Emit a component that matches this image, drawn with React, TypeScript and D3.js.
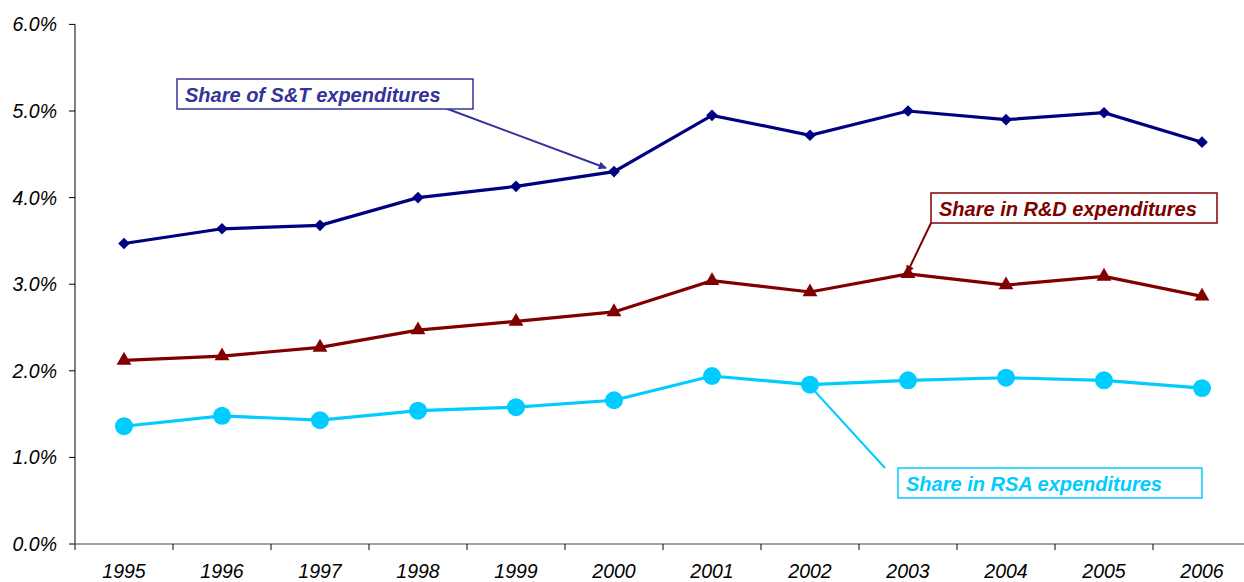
import React, { useEffect, useRef } from "react";
import * as d3 from "d3";

const years = ["1995", "1996", "1997", "1998", "1999", "2000", "2001", "2002", "2003", "2004", "2005", "2006"];
const stShare = [3.47, 3.64, 3.68, 4.0, 4.13, 4.3, 4.95, 4.72, 5.0, 4.9, 4.98, 4.64];
const rdShare = [2.12, 2.17, 2.27, 2.47, 2.57, 2.68, 3.04, 2.91, 3.12, 2.99, 3.09, 2.86];
const rsaShare = [1.36, 1.48, 1.43, 1.54, 1.58, 1.66, 1.94, 1.84, 1.89, 1.92, 1.89, 1.8];
const yTicks = [0, 1, 2, 3, 4, 5, 6];

export default function App() {
    const ref = useRef<SVGSVGElement>(null);

    useEffect(() => {
        const width = 1244;
        const height = 582;
        const svg = d3.select(ref.current);
        svg.selectAll("*").remove();

        const x = d3.scaleBand().domain(years).range([75, 1251]);
        const y = d3.scaleLinear().domain([0, 6]).range([544, 24.4]);
        const cx = (d: string) => (x(d) as number) + x.bandwidth() / 2;
        const font = "'Liberation Sans', Arial, sans-serif";

        const defs = svg.append("defs");
        const mk = (id: string, color: string) => {
            defs.append("marker")
                .attr("id", id)
                .attr("viewBox", "0 0 10 10")
                .attr("refX", 9).attr("refY", 5)
                .attr("markerWidth", 10).attr("markerHeight", 8)
                .attr("markerUnits", "userSpaceOnUse")
                .attr("orient", "auto")
                .append("path").attr("d", "M0,0 L10,5 L0,10 z").attr("fill", color);
        };
        mk("arrST", "#333399");
        mk("arrRD", "#800000");

        // y axis
        svg.append("line").attr("x1", 75).attr("x2", 75).attr("y1", y(6)).attr("y2", y(0))
            .attr("stroke", "#000").attr("stroke-width", 1);
        yTicks.forEach(t => {
            svg.append("line").attr("x1", 69).attr("x2", 75).attr("y1", y(t)).attr("y2", y(t))
                .attr("stroke", "#000");
            svg.append("text").attr("x", 57).attr("y", y(t) + 7)
                .attr("text-anchor", "end").attr("font-family", font).attr("font-style", "italic")
                .attr("font-size", 19.5).attr("fill", "#000").text(t.toFixed(1) + "%");
        });

        // x axis
        svg.append("line").attr("x1", 75).attr("x2", width).attr("y1", y(0)).attr("y2", y(0))
            .attr("stroke", "#808080").attr("stroke-width", 1.5);
        years.forEach(yr => {
            const x0 = x(yr) as number;
            svg.append("line").attr("x1", x0).attr("x2", x0).attr("y1", y(0)).attr("y2", y(0) + 6)
                .attr("stroke", "#000");
            svg.append("text").attr("x", cx(yr)).attr("y", 578)
                .attr("text-anchor", "middle").attr("font-family", font).attr("font-style", "italic")
                .attr("font-size", 19.5).attr("fill", "#000").text(yr);
        });

        const line = d3.line<number>().x((_, i) => cx(years[i])).y(d => y(d));

        const series = [
            { data: stShare, color: "#000080", sym: d3.symbolSquare, size: 68, rot: 45 },
            { data: rdShare, color: "#800000", sym: d3.symbolTriangle, size: 95, rot: 0 },
            { data: rsaShare, color: "#00CCFF", sym: d3.symbolCircle, size: 254, rot: 0 },
        ];

        series.forEach(s => {
            svg.append("path").datum(s.data).attr("d", line)
                .attr("fill", "none").attr("stroke", s.color).attr("stroke-width", 3.2);
        });
        series.forEach(s => {
            svg.selectAll(null).data(s.data).enter().append("path")
                .attr("d", d3.symbol().type(s.sym).size(s.size)())
                .attr("transform", (d, i) => `translate(${cx(years[i])},${y(d)}) rotate(${s.rot})`)
                .attr("fill", s.color);
        });

        // callouts
        const callout = (bx: number, by: number, bw: number, txt: string, color: string,
            lx1: number, ly1: number, lx2: number, ly2: number, marker: string | null) => {
            const l = svg.append("line").attr("x1", lx1).attr("y1", ly1).attr("x2", lx2).attr("y2", ly2)
                .attr("stroke", color).attr("stroke-width", 2);
            if (marker) l.attr("marker-end", `url(#${marker})`);
            svg.append("rect").attr("x", bx).attr("y", by).attr("width", bw).attr("height", 30)
                .attr("fill", "#fff").attr("stroke", color).attr("stroke-width", 1.5);
            svg.append("text").attr("x", bx + 8).attr("y", by + 22.5)
                .attr("font-family", font).attr("font-style", "italic").attr("font-weight", "bold")
                .attr("font-size", 20).attr("fill", color).text(txt);
        };

        callout(177, 79, 296, "Share of S&T expenditures", "#333399", 445, 108, 606, 168, "arrST");
        callout(931, 193, 286, "Share in R&D expenditures", "#800000", 931, 223, 907, 273, "arrRD");
        callout(898, 468, 304, "Share in RSA expenditures", "#00CCFF", 885, 468, 810, 386, null);

        svg.attr("width", width).attr("height", height);
    }, []);

    return (
        <svg ref={ref} width={1244} height={582}
            style={{ position: "absolute", left: 0, top: 0, background: "#fff" }} />
    );
}
